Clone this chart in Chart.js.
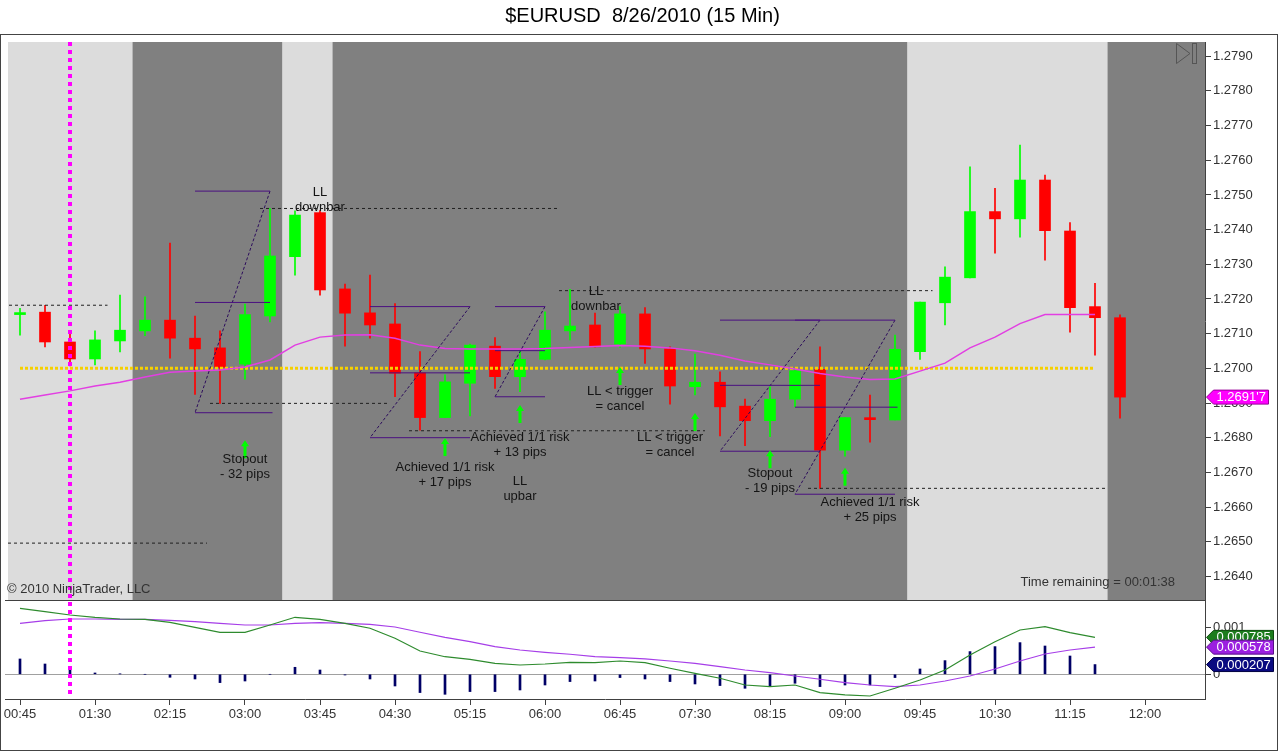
<!DOCTYPE html>
<html>
<head>
<meta charset="utf-8">
<title>$EURUSD 8/26/2010 (15 Min)</title>
<script src="https://cdn.jsdelivr.net/npm/chart.js@4.4.0/dist/chart.umd.min.js"></script>
<style>
  html, body { margin: 0; padding: 0; background: #fff; }
  #wrap { width: 1280px; height: 751px; position: relative; }
</style>
</head>
<body>
<div id="wrap"><canvas id="chart"></canvas></div>
<script>
// 15 min bars, index 0 = 00:45
const timeLabels = ['00:45','01:30','02:15','03:00','03:45','04:30','05:15','06:00','06:45','07:30','08:15','09:00','09:45','10:30','11:15','12:00'];
const xTickIdx   = [0, 3, 6, 9, 12, 15, 18, 21, 24, 27, 30, 33, 36, 39, 42, 45];

const opens = [
  1.27155, 1.27162, 1.27076, 1.27027, 1.27079, 1.27108, 1.27139, 1.27087, 1.27059, 1.27012,
  1.27151, 1.27322, 1.27449, 1.27229, 1.27160, 1.27128, 1.26987, 1.26858, 1.26957, 1.27064,
  1.26976, 1.27026, 1.27108, 1.27125, 1.27070, 1.27157, 1.27056, 1.26947, 1.26960, 1.26891,
  1.26849, 1.26911, 1.26997, 1.26764, 1.26857, 1.26851, 1.27048, 1.27189, 1.27261, 1.27452,
  1.27431, 1.27543, 1.27396, 1.27178, 1.27146];
const closes = [
  1.27160, 1.27076, 1.27027, 1.27082, 1.27110, 1.27139, 1.27087, 1.27056, 1.27003, 1.27155,
  1.27324, 1.27442, 1.27226, 1.27159, 1.27125, 1.26986, 1.26858, 1.26961, 1.27067, 1.26976,
  1.27026, 1.27110, 1.27122, 1.27062, 1.27157, 1.27056, 1.26949, 1.26960, 1.26889, 1.26849,
  1.26911, 1.26993, 1.26764, 1.26858, 1.26852, 1.27055, 1.27191, 1.27263, 1.27452, 1.27431,
  1.27543, 1.27397, 1.27175, 1.27146, 1.26917];
const highs = [
  1.27173, 1.27182, 1.27099, 1.27108, 1.27211, 1.27206, 1.27361, 1.27151, 1.27108, 1.27185,
  1.27461, 1.27454, 1.27455, 1.27243, 1.27269, 1.27187, 1.27048, 1.26981, 1.27070, 1.27089,
  1.27053, 1.27163, 1.27228, 1.27159, 1.27178, 1.27175, 1.27062, 1.27041, 1.26990, 1.26911,
  1.26947, 1.27000, 1.27062, 1.26858, 1.26923, 1.27096, 1.27191, 1.27293, 1.27581, 1.27519,
  1.27644, 1.27557, 1.27420, 1.27245, 1.27154];
const lows = [
  1.27096, 1.27062, 1.27007, 1.27010, 1.27047, 1.27094, 1.27029, 1.26925, 1.26899, 1.26969,
  1.27134, 1.27269, 1.27211, 1.27064, 1.27087, 1.26918, 1.26822, 1.26858, 1.26863, 1.26942,
  1.26933, 1.27024, 1.27082, 1.27061, 1.27060, 1.27014, 1.26897, 1.26923, 1.26805, 1.26777,
  1.26803, 1.26889, 1.26654, 1.26747, 1.26787, 1.26851, 1.27026, 1.27125, 1.27261, 1.27332,
  1.27378, 1.27312, 1.27104, 1.27038, 1.26856];

// moving average (magenta)
const maValues = [
  1.26911, 1.26923, 1.26935, 1.26949, 1.26960, 1.26975, 1.26989, 1.26992, 1.26995, 1.27004,
  1.27024, 1.27067, 1.27090, 1.27096, 1.27097, 1.27087, 1.27067, 1.27057, 1.27056, 1.27056,
  1.27056, 1.27057, 1.27060, 1.27063, 1.27066, 1.27064, 1.27059, 1.27051, 1.27038, 1.27021,
  1.27010, 1.26998, 1.26985, 1.26975, 1.26968, 1.26969, 1.26992, 1.27015, 1.27059, 1.27090,
  1.27129, 1.27155, 1.27155, 1.27155];

// lower panel
const macdValues = [
  0.001404, 0.001332, 0.001262, 0.001213, 0.001177, 0.001170, 0.001106, 0.001000, 0.000894, 0.000894,
  0.001049, 0.001213, 0.001170, 0.001085, 0.000979, 0.000766, 0.000496, 0.000374, 0.000319, 0.000234,
  0.000198, 0.000219, 0.000255, 0.000247, 0.000283, 0.000247, 0.000128, 0.000021, -0.000085, -0.000228,
  -0.000264, -0.000228, -0.000391, -0.000440, -0.000462, -0.000298, -0.000121, 0.000091, 0.000411, 0.000694,
  0.000943, 0.001013, 0.000885, 0.000785];
const avgValues = [
  0.001085, 0.001140, 0.001177, 0.001177, 0.001170, 0.001170, 0.001149, 0.001119, 0.001085, 0.001049,
  0.001049, 0.001085, 0.001098, 0.001085, 0.001064, 0.001006, 0.000894, 0.000787, 0.000694, 0.000587,
  0.000517, 0.000468, 0.000426, 0.000374, 0.000353, 0.000326, 0.000283, 0.000234, 0.000162, 0.000091,
  0.000034, -0.000036, -0.000106, -0.000179, -0.000228, -0.000264, -0.000228, -0.000143, -0.000036, 0.000113,
  0.000283, 0.000432, 0.000517, 0.000578];
const diffValues = [
  0.000326, 0.000219, 0.000091, 0.000028, 0.000007, 0.000000, -0.000064, -0.000100, -0.000177, -0.000143,
  0.000000, 0.000149, 0.000091, -0.000015, -0.000100, -0.000249, -0.000389, -0.000426, -0.000368, -0.000368,
  -0.000334, -0.000228, -0.000155, -0.000143, -0.000070, -0.000100, -0.000155, -0.000206, -0.000240, -0.000298,
  -0.000262, -0.000191, -0.000262, -0.000228, -0.000228, -0.000070, 0.000113, 0.000291, 0.000483, 0.000589,
  0.000674, 0.000602, 0.000389, 0.000207];

const priceTicks = [1.2640, 1.2650, 1.2660, 1.2670, 1.2680, 1.2690, 1.2700, 1.2710,
                    1.2720, 1.2730, 1.2740, 1.2750, 1.2760, 1.2770, 1.2780, 1.2790];
const macdTicks = [0, 0.001];

// session shading: boundaries in bar index, type per band
const sessionEdges = [-0.48, 4.5, 10.5, 12.5, 35.5, 43.5, 47.4];
const sessionType  = ['off', 'on', 'off', 'on', 'off', 'on'];

const pivotLevel = 1.2700, pivotFrom = 0, pivotTo = 43;
const markerIndex = 2;
const lastPriceText = "1.2691'7";

// drawn setups: [x1, price1, x2, price2]
const setupLevels = [
  [7, 1.27511, 10, 1.27511], [7, 1.27190, 10, 1.27190], [7, 1.26872, 10.1, 1.26872],
  [14, 1.27178, 18, 1.27178], [14, 1.26987, 18, 1.26987], [14, 1.26800, 18, 1.26800],
  [19, 1.27178, 21, 1.27178], [19, 1.27051, 21, 1.27051], [19, 1.26918, 21, 1.26918],
  [28, 1.27139, 32, 1.27139], [28, 1.26951, 32, 1.26951], [28, 1.26761, 32, 1.26761],
  [31, 1.27139, 35, 1.27139], [31, 1.26888, 35.1, 1.26888], [31, 1.26637, 35, 1.26637]];
const setupDiagonals = [
  [10, 1.27511, 7, 1.26872], [18, 1.27178, 14, 1.26800], [21, 1.27178, 19, 1.26918],
  [32, 1.27139, 28, 1.26761], [35, 1.27139, 31, 1.26637]];
const markLines = [
  [-0.44, 1.27182, 3.5, 1.27182], [9.6, 1.27461, 21.5, 1.27461], [7.6, 1.26899, 14.8, 1.26899],
  [-0.48, 1.26496, 7.48, 1.26496], [15.56, 1.26820, 27.4, 1.26820], [21.56, 1.27224, 36.5, 1.27224],
  [31.52, 1.26654, 43.4, 1.26654]];

const arrowX = [9, 17, 20, 24, 27, 30, 33];
const arrowY = [1.26793, 1.26799, 1.26894, 1.27004, 1.26871, 1.26764, 1.26713];

const noteX = [9, 12, 17, 20, 20, 23.04, 24, 26, 30, 34];
const noteY = [1.26738, 1.27508, 1.26715, 1.26802, 1.26675, 1.27223, 1.26932, 1.26802, 1.26698, 1.26614];
const noteText = [
  ['Stopout', '- 32 pips'], ['LL', 'downbar'], ['Achieved 1/1 risk', '+ 17 pips'],
  ['Achieved 1/1 risk', '+ 13 pips'], ['LL', 'upbar'], ['LL', 'downbar'],
  ['LL < trigger', '= cancel'], ['LL < trigger', '= cancel'], ['Stopout', '- 19 pips'],
  ['Achieved 1/1 risk', '+ 25 pips']];

const FONT = '"Liberation Sans", Arial, sans-serif';
Chart.defaults.font.family = FONT;
Chart.defaults.font.size = 13;
Chart.defaults.color = '#333';

const idx = opens.map((_, i) => i);
const candleColor = idx.map(i => closes[i] >= opens[i] ? '#00ff00' : '#ff0000');

const seg = (s, color, dash) => ({
  type: 'line', yAxisID: 'y', order: 1,
  data: [{ x: s[0], y: s[1] }, { x: s[2], y: s[3] }],
  borderColor: color, borderWidth: 1, borderDash: dash || [],
  pointRadius: 0, tension: 0,
});

const datasets = [
  { type: 'bar', label: 'wick', yAxisID: 'y', order: 10, grouped: false, barThickness: 1,
    data: idx.map(i => ({ x: i, y: [lows[i], highs[i]] })), backgroundColor: candleColor },
  { type: 'bar', label: 'body', yAxisID: 'y', order: 9, grouped: false, barThickness: 11, minBarLength: 2,
    data: idx.map(i => ({ x: i, y: [opens[i], closes[i]] })), backgroundColor: candleColor },
  { type: 'line', label: 'MA', yAxisID: 'y', order: 2,
    data: maValues.map((v, i) => ({ x: i, y: v })),
    borderColor: '#e23fe2', borderWidth: 1.5, pointRadius: 0, tension: 0 },
  { type: 'line', label: 'level', yAxisID: 'y', order: 2,
    data: [{ x: pivotFrom, y: pivotLevel }, { x: pivotTo, y: pivotLevel }],
    borderColor: '#f5d000', borderWidth: 3, borderDash: [3, 2], pointRadius: 0 },
  ...setupLevels.map(s => seg(s, '#4a0f80')),
  ...setupDiagonals.map(s => seg(s, '#2c0c5c', [3, 2])),
  ...markLines.map(s => seg(s, '#202020', [3, 3])),
  { type: 'bar', label: 'Diff', yAxisID: 'y2', order: 3, grouped: false, barThickness: 2,
    data: diffValues.map((v, i) => ({ x: i, y: v })), backgroundColor: '#000066' },
  { type: 'line', label: 'MACD', yAxisID: 'y2', order: 1,
    data: macdValues.map((v, i) => ({ x: i, y: v })),
    borderColor: '#2e8b2e', borderWidth: 1.2, pointRadius: 0, tension: 0 },
  { type: 'line', label: 'Avg', yAxisID: 'y2', order: 1,
    data: avgValues.map((v, i) => ({ x: i, y: v })),
    borderColor: '#a63ee8', borderWidth: 1.2, pointRadius: 0, tension: 0 },
];

function drawTag(ctx, xl, yc, text, fill, stroke, w) {
  const h = 14;
  ctx.beginPath();
  ctx.moveTo(xl, yc);
  ctx.lineTo(xl + 7, yc - h / 2);
  ctx.lineTo(xl + w, yc - h / 2);
  ctx.lineTo(xl + w, yc + h / 2);
  ctx.lineTo(xl + 7, yc + h / 2);
  ctx.closePath();
  ctx.fillStyle = fill;
  ctx.fill();
  ctx.lineWidth = 1;
  ctx.strokeStyle = stroke;
  ctx.stroke();
  ctx.fillStyle = '#fff';
  ctx.font = '13px ' + FONT;
  ctx.textAlign = 'left';
  ctx.textBaseline = 'middle';
  ctx.fillText(text, xl + 10, yc + 0.5);
}

const decor = {
  id: 'decor',
  beforeDatasetsDraw(chart) {
    const { ctx, chartArea, scales: { x, y, y2 } } = chart;
    ctx.save();
    for (let k = 0; k < sessionType.length; k++) {
      const x1 = x.getPixelForValue(sessionEdges[k]);
      const x2 = Math.min(x.getPixelForValue(sessionEdges[k + 1]), chartArea.right);
      ctx.fillStyle = sessionType[k] === 'on' ? '#808080' : '#dcdcdc';
      ctx.fillRect(x1, y.top, x2 - x1, y.bottom - y.top);
    }
    // zero line of the lower panel
    const z = Math.round(y2.getPixelForValue(0)) + 0.5;
    ctx.strokeStyle = '#a0a0a0';
    ctx.lineWidth = 1;
    ctx.beginPath();
    ctx.moveTo(chartArea.left, z);
    ctx.lineTo(chartArea.right, z);
    ctx.stroke();
    ctx.restore();
  },
  afterDatasetsDraw(chart) {
    const { ctx, scales: { x, y, y2 } } = chart;
    ctx.save();
    // arrows
    ctx.fillStyle = '#00ff00';
    arrowX.forEach((ax, k) => {
      const px = x.getPixelForValue(ax), py = y.getPixelForValue(arrowY[k]);
      ctx.beginPath();
      ctx.moveTo(px, py);
      ctx.lineTo(px + 4, py + 6);
      ctx.lineTo(px + 1.5, py + 6);
      ctx.lineTo(px + 1.5, py + 18);
      ctx.lineTo(px - 1.5, py + 18);
      ctx.lineTo(px - 1.5, py + 6);
      ctx.lineTo(px - 4, py + 6);
      ctx.closePath();
      ctx.fill();
    });
    // notes
    ctx.fillStyle = '#141414';
    ctx.font = '13px ' + FONT;
    ctx.textAlign = 'center';
    ctx.textBaseline = 'middle';
    noteX.forEach((nx, k) => {
      const px = x.getPixelForValue(nx), py = y.getPixelForValue(noteY[k]);
      noteText[k].forEach((line, j) => ctx.fillText(line, px, py + j * 15));
    });
    // vertical marker
    const mx = x.getPixelForValue(markerIndex);
    ctx.strokeStyle = '#ff00ff';
    ctx.lineWidth = 4;
    ctx.setLineDash([4, 4]);
    ctx.beginPath();
    ctx.moveTo(mx, y.top);
    ctx.lineTo(mx, y2.bottom - 2);
    ctx.stroke();
    ctx.restore();
  },
  afterDraw(chart) {
    const { ctx, chartArea, scales: { y, y2 } } = chart;
    ctx.save();
    // panel separator
    const sy = Math.round(y.bottom) + 0.5;
    ctx.strokeStyle = '#404040';
    ctx.lineWidth = 1;
    ctx.beginPath();
    ctx.moveTo(chartArea.left, sy);
    ctx.lineTo(chartArea.right, sy);
    ctx.stroke();
    // outer frame
    ctx.strokeStyle = '#444';
    ctx.strokeRect(0.5, 34.5, 1277, 716);
    // go-to-end icon
    const ir = chartArea.right;
    ctx.strokeStyle = '#555';
    ctx.beginPath();
    ctx.moveTo(ir - 28.5, y.top + 1.5);
    ctx.lineTo(ir - 15, y.top + 11.5);
    ctx.lineTo(ir - 28.5, y.top + 21.5);
    ctx.closePath();
    ctx.stroke();
    ctx.strokeRect(ir - 12.5, y.top + 1.5, 4, 20);
    // texts
    ctx.fillStyle = '#333';
    ctx.font = '13px ' + FONT;
    ctx.textBaseline = 'middle';
    ctx.textAlign = 'left';
    ctx.fillText('\u00a9 2010 NinjaTrader, LLC', 7, y.bottom - 11);
    ctx.textAlign = 'right';
    ctx.fillText('Time remaining = 00:01:38', ir - 30, y.bottom - 18);
    // value tags
    const tx = chartArea.right + 1.5;
    drawTag(ctx, tx, y.getPixelForValue(closes[closes.length - 1]), lastPriceText, '#ff00ff', '#990099', 62);
    drawTag(ctx, tx, y2.getPixelForValue(macdValues[macdValues.length - 1]), macdValues[macdValues.length - 1].toFixed(6), '#1c7c1c', '#0c4c0c', 67);
    drawTag(ctx, tx, y2.getPixelForValue(avgValues[avgValues.length - 1]), avgValues[avgValues.length - 1].toFixed(6), '#9b1fe0', '#5a0f88', 67);
    drawTag(ctx, tx, y2.getPixelForValue(diffValues[diffValues.length - 1]), diffValues[diffValues.length - 1].toFixed(6), '#0a0a80', '#000040', 67);
    ctx.restore();
  }
};

const rightAxis = (extra) => Object.assign({
  type: 'linear', position: 'right', stack: 'panes',
  grid: { display: true, drawOnChartArea: false, drawTicks: true, tickLength: 6, color: '#404040' },
  border: { display: true, color: '#404040' },
  afterFit: s => { s.width = 75; s.paddingTop = 0; s.paddingBottom = 0; },
}, extra);

new Chart(document.getElementById('chart'), {
  type: 'line',
  data: { datasets },
  options: {
    responsive: true,
    maintainAspectRatio: false,
    animation: false,
    events: [],
    layout: { padding: { left: 5, right: 0, top: 0, bottom: 0 } },
    plugins: {
      legend: { display: false },
      tooltip: { enabled: false },
      title: {
        display: true, text: '$EURUSD  8/26/2010 (15 Min)', color: '#000',
        font: { size: 20, weight: 'normal', family: FONT },
        padding: { top: 4, bottom: 14 },
      },
    },
    scales: {
      x: {
        type: 'linear', min: -0.6, max: 47.4, offset: false,
        grid: { offset: false, display: true, drawOnChartArea: false, drawTicks: true, tickLength: 6, color: '#404040' },
        border: { display: true, color: '#404040' },
        afterBuildTicks: s => { s.ticks = xTickIdx.map(v => ({ value: v })); },
        afterFit: s => { s.height = 52; s.paddingLeft = 0; s.paddingRight = 0; },
        ticks: { autoSkip: false, maxRotation: 0, padding: 2, color: '#333', font: { size: 13 },
                 callback: (v, i) => timeLabels[i] },
      },
      y: rightAxis({
        stackWeight: 558, min: 1.26332, max: 1.27941,
        afterBuildTicks: s => { s.ticks = priceTicks.map(v => ({ value: v })); },
        ticks: { padding: 2, color: '#333', font: { size: 13 }, callback: v => v.toFixed(4) },
      }),
      y2: rightAxis({
        stackWeight: 99, min: -0.000526, max: 0.001581,
        afterBuildTicks: s => { s.ticks = macdTicks.map(v => ({ value: v })); },
        ticks: { padding: 2, color: '#333', font: { size: 13 }, callback: v => v === 0 ? '0' : v.toFixed(3) },
      }),
    },
  },
  plugins: [decor],
});
</script>
</body>
</html>
